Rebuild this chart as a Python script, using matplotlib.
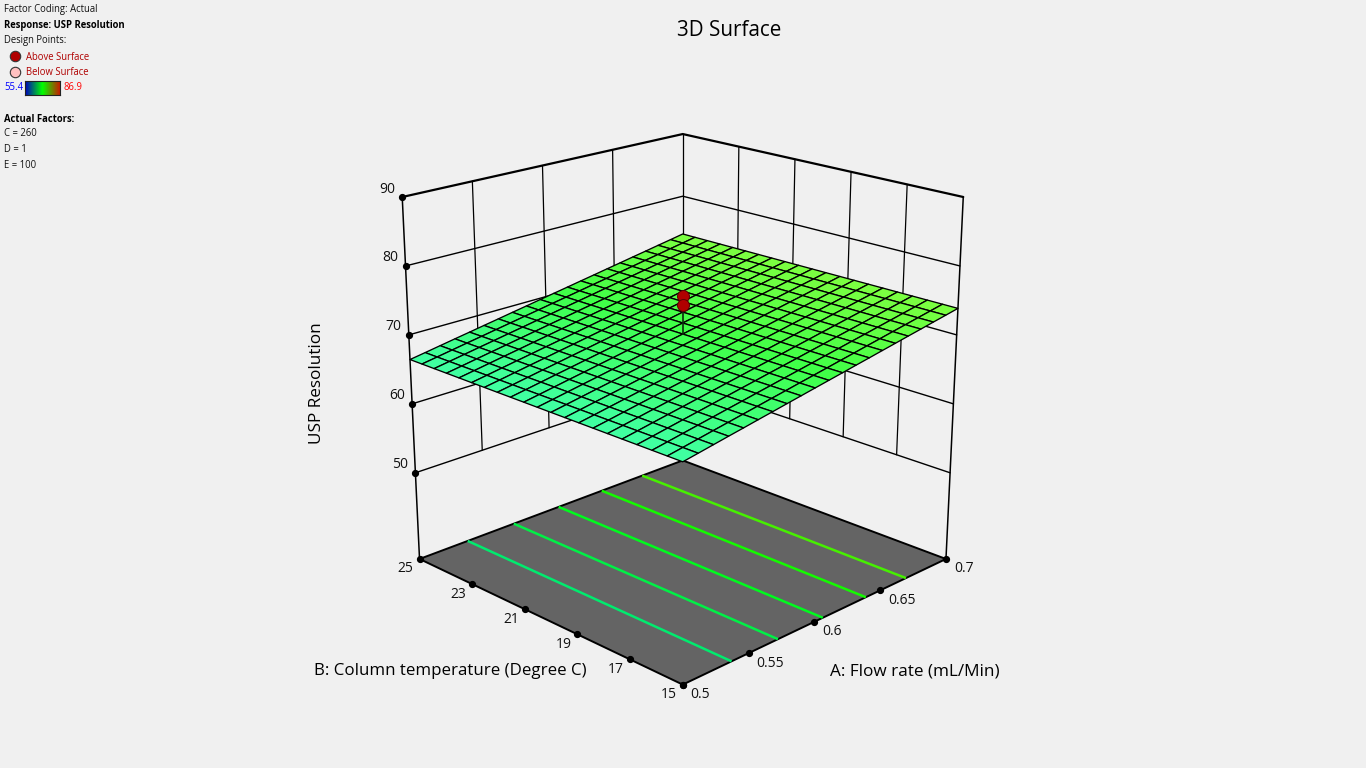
import numpy as np
import matplotlib
matplotlib.use("Agg")
import matplotlib.pyplot as plt
from matplotlib.colors import LinearSegmentedColormap, Normalize
from matplotlib.lines import Line2D

plt.rcParams['font.family'] = ['Open Sans', 'DejaVu Sans']

A_values = [0.50,0.51,0.52,0.53,0.54,0.55,0.56,0.57,0.58,0.59,0.60,0.61,0.62,0.63,0.64,0.65,0.66,0.67,0.68,0.69,0.70]
B_values = [15,15.5,16,16.5,17,17.5,18,18.5,19,19.5,20,20.5,21,21.5,22,22.5,23,23.5,24,24.5,25]
z_by_A = [67.25,67.61,67.98,68.35,68.71,69.08,69.44,69.81,70.17,70.54,70.90,71.26,71.63,71.99,72.36,72.72,73.09,73.45,73.82,74.18,74.55]
A_ticks = [0.5,0.55,0.6,0.65,0.7]
B_ticks = [15,17,19,21,23,25]
z_ticks = [50,60,70,80,90]
contour_levels = [68.47,69.68,70.90,72.12,73.31]
contour_colors = ['#00EB6E','#00F046','#00FA1E','#14FA00','#46F000']
design_points = [76.3,75.02]
center_surface = 70.9
fl = 37.5

W,H = 1366,768
fig = plt.figure(figsize=(13.66,7.68),dpi=100,facecolor='#F0F0F0')
axb = fig.add_axes([0,0,1,1],zorder=0); axf = fig.add_axes([0,0,1,1],zorder=2)
for a_ in (axb,axf):
    a_.set_xlim(0,W); a_.set_ylim(H,0); a_.axis('off')
side = 645.99
ax = fig.add_axes([351.02/W,52.53/H,side/W,side/H],projection='3d',computed_zorder=False,zorder=1)
ax.set_axis_off()
ax.patch.set_alpha(0)
ax.set_xlim(0.5,0.7,view_margin=0)
ax.set_ylim(15,25,view_margin=0)
ax.set_zlim(fl,90,view_margin=0)
ax.view_init(elev=19.8236,azim=-135)
ax.set_box_aspect((1,1,1.00073),zoom=1)
ax.set_proj_type('persp',focal_length=0.58662)
ax.apply_aspect()

def pix(a,bb,z):
    v = ax.get_proj() @ np.array([a,bb,z,1.0])
    q = ax.transData.transform((v[0]/v[3],v[1]/v[3]))
    return np.array([q[0],H-q[1]])

def even(p0,p1,t):
    return p0+(p1-p0)*t

# the reference spaces its ticks evenly on screen along each edge
def post(a,bv,z):
    return even(pix(a,bv,fl),pix(a,bv,90),(z-fl)/(90-fl))

lk = dict(color='black',solid_capstyle='round')
for z in z_ticks:
    w = 1.6 if z==90 else 1.0
    pl,pc,pr = post(.5,25,z),post(.7,25,z),post(.7,15,z)
    axb.plot([pl[0],pc[0],pr[0]],[pl[1],pc[1],pr[1]],lw=w,**lk)
for a in A_ticks[1:]:
    t=(a-.5)/.2
    p0=even(post(.5,25,50),post(.7,25,50),t); p1=even(post(.5,25,90),post(.7,25,90),t)
    axb.plot([p0[0],p1[0]],[p0[1],p1[1]],lw=0.9,**lk)
for bv in B_ticks[1:-1]:
    t=(bv-15)/10
    p0=even(post(.7,15,50),post(.7,25,50),t); p1=even(post(.7,15,90),post(.7,25,90),t)
    axb.plot([p0[0],p1[0]],[p0[1],p1[1]],lw=0.9,**lk)
for a,bv in ((.5,25),(.7,15)):
    p0,p1=pix(a,bv,fl),pix(a,bv,90)
    axb.plot([p0[0],p1[0]],[p0[1],p1[1]],lw=1.1,**lk)

# floor with contour lines
A2,B2 = np.meshgrid([0.5,0.7],[15,25])
ax.plot_surface(A2,B2,np.full_like(A2,fl),color='#646464',shade=False,linewidth=0,zorder=1)
ax.plot([0.5,0.7,0.7,0.5,0.5],[15,15,25,25,15],[fl]*5,color='black',lw=1.4,zorder=1.5)
AG,BG = np.meshgrid(A_values,B_values)
ZG = np.tile(np.array(z_by_A),(len(B_values),1))
ax.contour(AG,BG,ZG,levels=contour_levels,colors=contour_colors,linewidths=1.8,zdir='z',offset=fl,zorder=2)
cm = LinearSegmentedColormap.from_list('s',['#40FFA0','#40FF48','#80FF40'])
nm = Normalize(z_by_A[0],z_by_A[-1])
ax.plot_surface(AG,BG,ZG,rstride=1,cstride=1,facecolors=cm(nm(ZG)),shade=False,edgecolor='black',linewidth=0.95,zorder=3)
ax.plot([0.6,0.6],[20,20],[center_surface,max(design_points)],color='#0A2A0A',lw=1.2,zorder=5)
ax.plot([0.6]*2,[20]*2,design_points,ls='none',marker='o',ms=8.6,mfc='#B00000',mec='#5A0000',mew=0.7,zorder=6)

dots=dict(ls='none',marker='o',ms=4.2,color='black')
tk=dict(fontsize=10,color='#111111',va='center')
for a in A_ticks:
    q=even(pix(.5,15,fl),pix(.7,15,fl),(a-.5)/.2)
    axf.plot(*q,**dots); axf.text(q[0]+8,q[1]+10,f'{a:g}',ha='left',**tk)
for bv in B_ticks:
    q=even(pix(.5,15,fl),pix(.5,25,fl),(bv-15)/10)
    axf.plot(*q,**dots); axf.text(q[0]-6,q[1]+10,str(bv),ha='right',**tk)
for z in z_ticks:
    q=post(.5,25,z)
    axf.plot(*q,**dots); axf.text(q[0]-7,q[1]-8,str(z),ha='right',**tk)

def T_txt(x,y,s,**k):
    return fig.text(x/W,1-y/H,s,**k)
T_txt(729.5,30,'3D Surface',fontsize=14.9,ha='center',va='center',color='black')
T_txt(915,671,'A: Flow rate (mL/Min)',fontsize=12.35,ha='center',va='center',color='black')
T_txt(450,671,'B: Column temperature (Degree C)',fontsize=12.2,ha='center',va='center',color='black')
T_txt(317,383,'USP Resolution',fontsize=12.3,ha='center',va='center',rotation=90,color='black')

sm=dict(fontsize=6.85,va='center')
T_txt(4,9.7,'Factor Coding: Actual',color='#111111',**sm)
T_txt(4,25.7,'Response: USP Resolution',color='black',fontweight='bold',**sm)
T_txt(4,40.7,'Design Points:',color='#111111',**sm)
T_txt(26,57,'Above Surface',color='#B00000',**sm)
T_txt(26,72.5,'Below Surface',color='#B00000',**sm)
T_txt(4,88,'55.4',color='#0000FF',**sm)
T_txt(64,88,'86.9',color='#FF0000',**sm)
T_txt(4,119,'Actual Factors:',color='black',fontweight='bold',**sm)
T_txt(4,134,'C = 260',color='#111111',**sm)
T_txt(4,150,'D = 1',color='#111111',**sm)
T_txt(4,165,'E = 100',color='#111111',**sm)
fig.add_artist(Line2D([15.3/W],[1-56.2/H],marker='o',ms=7.5,mfc='#B00000',mec='#333333',mew=0.8,ls='none'))
fig.add_artist(Line2D([15.3/W],[1-71.7/H],marker='o',ms=7.5,mfc='#FFC0C0',mec='#333333',mew=0.8,ls='none'))
cax=fig.add_axes([24.5/W,1-95/H,35/W,14/H],zorder=3)
cax.imshow(np.linspace(0,1,100)[None,:],aspect='auto',cmap=LinearSegmentedColormap.from_list('l',['#0000C0','#00FF00','#C81E00']))
cax.set_xticks([]);cax.set_yticks([])
for s in cax.spines.values(): s.set_color('#222222'); s.set_linewidth(0.8)

fig.savefig('out.png',dpi=100,facecolor=fig.get_facecolor())
